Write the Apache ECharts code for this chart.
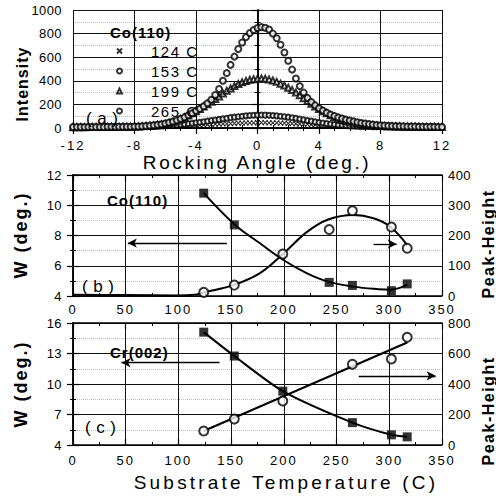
<!DOCTYPE html>
<html><head><meta charset="utf-8">
<script src="https://cdn.jsdelivr.net/npm/echarts@6/dist/echarts.min.js"></script>
<style>html,body{margin:0;padding:0;background:#fff}#chart{width:496px;height:497px}</style>
</head><body><div id="chart"></div>
<script>
// ---------- Panel (a): rocking curves, Co(110) ----------
const angles = [
-12,-11.75,-11.5,-11.25, -11,-10.75,-10.5,-10.25, -10,-9.75,-9.5,-9.25, -9,-8.75,-8.5,-8.25,
-8,-7.75,-7.5,-7.25, -7,-6.75,-6.5,-6.25, -6,-5.75,-5.5,-5.25, -5,-4.75,-4.5,-4.25,
-4,-3.75,-3.5,-3.25, -3,-2.75,-2.5,-2.25, -2,-1.75,-1.5,-1.25, -1,-0.75,-0.5,-0.25,
0,0.25,0.5,0.75, 1,1.25,1.5,1.75, 2,2.25,2.5,2.75, 3,3.25,3.5,3.75,
4,4.25,4.5,4.75, 5,5.25,5.5,5.75, 6,6.25,6.5,6.75, 7,7.25,7.5,7.75,
8,8.25,8.5,8.75, 9,9.25,9.5,9.75, 10,10.25,10.5,10.75, 11,11.25,11.5,11.75, 12];
const int124 = [
4,4,4,4, 4,5,5,5, 5,5,5,6, 6,6,6,7,
7,7,8,8, 9,9,10,11, 12,13,14,15, 16,18,19,21,
22,24,26,28, 30,32,34,35, 37,38,40,41, 42,43,44,44,
45,45,45,44, 44,43,42,41, 39,38,36,34, 32,30,28,26,
24,22,21,19, 17,16,15,13, 12,11,10,10, 9,8,8,7,
7,7,6,6, 6,6,5,5, 5,5,5,5, 5,5,5,5, 5];
const int153 = [
6,6,6,6, 6,7,7,7, 7,7,8,8, 8,8,9,9,
10,10,11,12, 13,14,15,17, 19,21,23,26, 29,32,36,40,
44,48,53,58, 63,68,73,78, 83,88,92,96, 100,103,106,108,
109,110,109,108, 106,103,100,96, 92,87,82,76, 70,64,58,52,
47,42,37,33, 29,26,23,21, 19,17,15,14, 13,12,11,10,
10,9,9,8, 8,8,7,7, 7,7,7,6, 6,6,6,6, 6];
const int199 = [
7,7,7,7, 8,8,8,8, 8,9,9,9, 9,10,10,11,
12,13,15,17, 19,22,26,30, 36,43,52,62, 75,90,106,124,
143,162,182,202, 222,245,268,292, 315,335,355,372, 387,399,408,414,
418,419,417,412, 403,391,376,360, 342,322,300,277, 253,229,205,183,
162,142,124,108, 94,81,70,60, 52,45,39,34, 30,26,23,20,
18,16,15,14, 13,12,11,11, 10,10,10,9, 9,9,9,8, 8];
const int265 = [
8,8,8,8, 9,9,9,9, 9,10,10,10, 10,10,11,11,
12,13,15,17, 20,23,27,32, 38,46,55,66, 78,92,108,125,
145,163,185,210, 240,280,330,400, 465,535,605,670, 725,770,805,830,
848,855,850,835, 800,760,705,640, 570,495,420,355, 300,255,220,192,
168,148,130,115, 102,90,80,71, 63,56,49,43, 38,33,29,26,
23,21,19,17, 16,15,14,13, 12,12,11,11, 10,10,10,9, 9];
const legendNames = ['124 C','153 C','199 C','265 C'];

// ---------- Panel (b): Co(110) vs substrate temperature ----------
const tempB_W = [124,153,243,265,302,317];
const wB = [10.8,8.7,4.9,4.7,4.35,4.8];
const tempB_P = [124,153,199,243,265,302,317];
const peakB = [12,36,139,220,282,228,158];
const fitB_W_x = [124,153,177,199.5,222,242,266,290,301,317];
const fitB_W_y = [10.8,8.75,7.5,6.38,5.5,4.95,4.62,4.45,4.42,4.73];
const fitB_P_x = [0,50,100,115,124,152,177,199.5,222,242,266,285,301,317];
const fitB_P_y = [4,3,2,4,12,36,75,140,212,253,268,257,229,168];

// ---------- Panel (c): Cr(002) vs substrate temperature ----------
const tempC = [124,153,199,265,302,317];
const wC = [15.1,12.75,9.3,6.2,5.0,4.8];
const peakC = [92,170,288,529,564,706];
const fitC_P_x = [124,317];
const fitC_P_y = [92,672];

const FF = 'Liberation Sans';
const zip = (xs, ys) => xs.map((x, i) => [x, ys[i]]);
const plain = v => String(v);

const lineBlack = {show:true, lineStyle:{color:'#000', width:1.5}};
function xAxisDef(grid, min, max, interval, minorSplit, pos, labels, margin){
  return {type:'value', gridIndex:grid, min:min, max:max, interval:interval, position:pos,
    axisLine:lineBlack,
    axisTick:{show:true, inside:true, length:6, lineStyle:{color:'#000', width:1.2}},
    minorTick:{show:true, splitNumber:minorSplit, length:3, lineStyle:{color:'#000', width:1}},
    axisLabel:{show:labels, color:'#000', fontSize:13, margin:margin||9, fontFamily:FF+', lspd', formatter:plain},
    splitLine:{show:pos==='bottom', lineStyle:{color:'#111', width:1}},
    minorSplitLine:{show:false}};
}
function yAxisDef(grid, min, max, interval, minorSplit, pos, labels, split){
  return {type:'value', gridIndex:grid, min:min, max:max, interval:interval, position:pos,
    axisLine:lineBlack,
    axisTick:{show:true, inside:true, length:6, lineStyle:{color:'#000', width:1.2}},
    minorTick:{show:true, splitNumber:minorSplit, length:3, lineStyle:{color:'#000', width:1}},
    axisLabel:{show:labels, color:'#000', fontSize:13, margin:pos==='left'?11:6, fontFamily:FF+', lspa', formatter:plain},
    splitLine:{show:split, lineStyle:{color:'#111', width:1}},
    minorSplitLine:{show:split, lineStyle:{color:'#bbb', width:1, type:'dotted'}}};
}
function txt(t, x, y, size, weight, ls, rot){
  return {type:'text', x:x, y:y, rotation: rot ? Math.PI/2 : 0, z:100,
    style:{text:t, fontSize:size, fontWeight:weight, fontFamily:FF+', '+ls, fill:'#000',
      textAlign:'center', textVerticalAlign:'middle', verticalAlign:'middle'}};
}
function txtL(t, x, y, size, weight, ls){
  return {type:'text', x:x, y:y, z:100,
    style:{text:t, fontSize:size, fontWeight:weight, fontFamily:FF+', '+ls, fill:'#000',
      textAlign:'left', textVerticalAlign:'middle', verticalAlign:'middle'}};
}

const option = {
  animation:false,
  backgroundColor:'#fff',
  grid:[
    {left:73, top:10, width:369, height:118},
    {left:73, top:175, width:369, height:121},
    {left:73, top:323, width:369, height:122}
  ],
  xAxis:[
    xAxisDef(0,-12,12,4,4,'bottom',true,11),
    xAxisDef(0,-12,12,4,4,'top',false),
    xAxisDef(1,0,350,50,2,'bottom',true,7),
    xAxisDef(1,0,350,50,2,'top',false),
    xAxisDef(2,0,350,50,2,'bottom',true,9),
    xAxisDef(2,0,350,50,2,'top',false)
  ],
  yAxis:[
    yAxisDef(0,0,1000,200,2,'left',true,true),
    yAxisDef(0,0,1000,200,2,'right',false,false),
    yAxisDef(1,4,12,2,2,'left',true,true),
    yAxisDef(1,0,400,100,2,'right',true,false),
    yAxisDef(2,4,16,3,2,'left',true,true),
    yAxisDef(2,0,800,200,2,'right',true,false)
  ],
  legend:{left:111, top:38, orient:'vertical', itemWidth:5, itemHeight:5, itemGap:4, z:20,
    selectedMode:false, data:legendNames,
    textStyle:{fontSize:15, lineHeight:16, color:'#000', fontFamily:FF+', lspc', padding:[0,0,0,24]}},
  series:[
    {type:'scatter', name:legendNames[0], xAxisIndex:0, yAxisIndex:0, data:zip(angles,int124),
      symbol:'path://M0,0L10,10M10,0L0,10', symbolSize:5,
      itemStyle:{color:'#000', borderColor:'#000', borderWidth:1.1}, z:3},
    {type:'scatter', name:legendNames[1], xAxisIndex:0, yAxisIndex:0, data:zip(angles,int153),
      symbol:'emptyCircle', symbolSize:5, itemStyle:{color:'#000', borderWidth:1.2}, z:4},
    {type:'scatter', name:legendNames[2], xAxisIndex:0, yAxisIndex:0, data:zip(angles,int199),
      symbol:'emptyTriangle', symbolSize:6, itemStyle:{color:'#000', borderWidth:1.2}, z:5},
    {type:'scatter', name:legendNames[3], xAxisIndex:0, yAxisIndex:0, data:zip(angles,int265),
      symbol:'emptyCircle', symbolSize:6, itemStyle:{color:'#000', borderWidth:1.4}, z:6},

    // (b)
    {type:'line', xAxisIndex:2, yAxisIndex:2, data:zip(fitB_W_x,fitB_W_y), smooth:0.4,
      showSymbol:false, lineStyle:{color:'#000', width:2}, silent:true,
      markLine:{silent:true, symbol:['none','arrow'], symbolSize:[7,9], label:{show:false},
        lineStyle:{color:'#000', width:1.3, type:'solid'},
        data:[[{coord:[146,7.5]},{coord:[52,7.5]}],[{coord:[285,7.44]},{coord:[307,7.44]}]]}},
    {type:'scatter', xAxisIndex:2, yAxisIndex:2, data:zip(tempB_W,wB), symbol:'rect', symbolSize:9,
      itemStyle:{color:'#000'}, z:5},
    {type:'line', xAxisIndex:2, yAxisIndex:3, data:zip(fitB_P_x,fitB_P_y), smooth:0.4,
      showSymbol:false, lineStyle:{color:'#000', width:2}, silent:true},
    {type:'scatter', xAxisIndex:2, yAxisIndex:3, data:zip(tempB_P,peakB), symbol:'emptyCircle', symbolSize:9,
      itemStyle:{color:'#000', borderWidth:1.4}, z:5},

    // (c)
    {type:'line', xAxisIndex:4, yAxisIndex:4, data:zip(tempC,wC), smooth:0.25,
      showSymbol:false, lineStyle:{color:'#000', width:2}, silent:true,
      markLine:{silent:true, symbol:['none','arrow'], symbolSize:[7,9], label:{show:false},
        lineStyle:{color:'#000', width:1.3, type:'solid'},
        data:[[{coord:[139,12.1]},{coord:[46,12.1]}],[{coord:[271,10.8]},{coord:[344,10.8]}]]}},
    {type:'scatter', xAxisIndex:4, yAxisIndex:4, data:zip(tempC,wC), symbol:'rect', symbolSize:9,
      itemStyle:{color:'#000'}, z:5},
    {type:'line', xAxisIndex:4, yAxisIndex:5, data:zip(fitC_P_x,fitC_P_y),
      showSymbol:false, lineStyle:{color:'#000', width:2}, silent:true},
    {type:'scatter', xAxisIndex:4, yAxisIndex:5, data:zip(tempC,peakC), symbol:'emptyCircle', symbolSize:9,
      itemStyle:{color:'#000', borderWidth:1.4}, z:5}
  ],
  graphic:[
    txt('Intensity', 22, 84, 16, 'bold', 'lspb', true),
    txt('Rocking Angle (deg.)', 257, 162, 19, 'normal', 'lspe', false),
    txt('W (deg.)', 21, 235, 18, 'bold', 'lspd', true),
    txt('W (deg.)', 21, 384, 18, 'bold', 'lspd', true),
    txt('Peak-Height', 488, 244, 16, 'bold', 'lspc', true),
    txt('Peak-Height', 488, 411, 16, 'bold', 'lspc', true),
    txt('Substrate Temperature (C)', 286, 482, 19, 'normal', 'lspf', false),
    txtL('Co(110)', 110, 32, 15, 'bold', 'lspb'),
    txtL('Co(110)', 107, 200, 15, 'bold', 'lspb'),
    txtL('Cr(002)', 110, 352, 15, 'bold', 'lspb'),
    txtL('( a )', 86, 118, 17, 'normal', 'lspa'),
    txtL('( b )', 82, 286, 17, 'normal', 'lspa'),
    txtL('( c )', 85, 427, 17, 'normal', 'lspa')
  ]
};

const chart = echarts.init(document.getElementById('chart'), null, {renderer:'svg', width:496, height:497});
chart.setOption(option);
const LS = {lspa:0.4, lspb:1, lspc:1.5, lspd:2, lspe:2.6, lspf:3.2};
function applySpacing(){
  document.querySelectorAll('#chart text').forEach(t => {
    const s = (t.getAttribute('style')||'') + ' ' + (t.getAttribute('font-family')||'');
    const m = s.match(/lsp[a-f]/);
    if (m) t.setAttribute('letter-spacing', LS[m[0]] + 'px');
  });
}
applySpacing();
chart.on('finished', applySpacing);
setTimeout(applySpacing, 50);
setTimeout(applySpacing, 300);
</script>
</body></html>
